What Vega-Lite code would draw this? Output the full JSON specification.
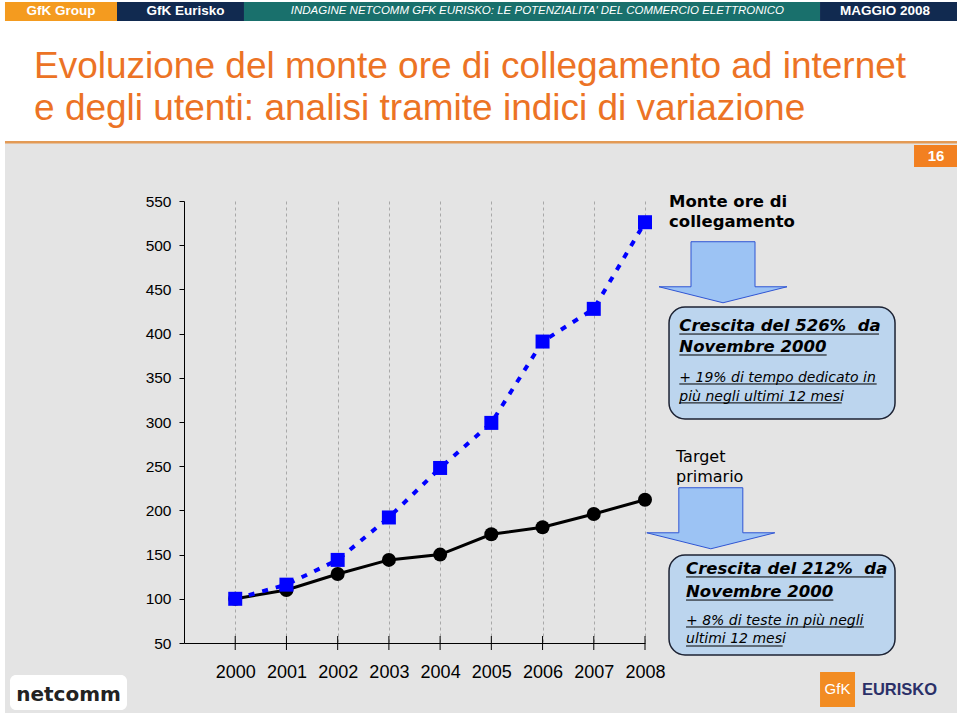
{
 "$schema": "https://vega.github.io/schema/vega-lite/v6.json",
 "width": 461, "height": 442, "autosize": "none",
 "padding": {"left": 184, "top": 201, "right": 315, "bottom": 73},
 "background": "#e4e4e4",
 "config": {"view": {"stroke": null}, "font": "Liberation Sans"},
 "datasets": {
  "blocks": [
   {"part": "white", "x": 1995.3, "x2": 2014.3, "y": 780, "y2": 617.9},
   {"part": "white", "x": 1995.3, "x2": 1995.505, "y": 780, "y2": -36},
   {"part": "white", "x": 2014.091, "x2": 2014.3, "y": 780, "y2": -36},
   {"part": "white", "x": 1995.3, "x2": 2014.3, "y": -29.2, "y2": -36},
   {"part": "linea", "x": 1995.505, "x2": 2014.091, "y": 617.9, "y2": 615.0},
   {"part": "pagina", "x": 2013.252, "x2": 2014.091, "y": 613.3, "y2": 588.5},
   {"part": "GfK Group", "x": 1995.505, "x2": 1997.692, "y": 775.1, "y2": 753.6},
   {"part": "GfK Eurisko", "x": 1997.692, "x2": 2000.171, "y": 775.1, "y2": 753.6},
   {"part": "indagine", "x": 2000.171, "x2": 2011.417, "y": 775.1, "y2": 753.6},
   {"part": "data", "x": 2011.417, "x2": 2014.091, "y": 775.1, "y2": 753.6},
   {"part": "logo GfK", "x": 2011.417, "x2": 2012.1, "y": 17.2, "y2": -22.4}
  ],
  "boxes": [
   {"box": "monte ore", "x": 2008.469, "x2": 2012.881, "y": 430.1, "y2": 303.4},
   {"box": "target", "x": 2008.469, "x2": 2012.881, "y": 149.5, "y2": 36.4}
  ],
  "netcommBox": [
   {"x": 1995.603, "x2": 1997.887, "y": 13.8, "y2": -25.8}
  ],
  "arrows": [
   {"arrow": "monte ore", "x": 2009.523, "y": 469.4},
   {"arrow": "target", "x": 2009.285, "y": 191.1}
  ],
  "series": [
   {"year": 2000, "serie": "Monte ore", "index": 100},
   {"year": 2001, "serie": "Monte ore", "index": 116},
   {"year": 2002, "serie": "Monte ore", "index": 144},
   {"year": 2003, "serie": "Monte ore", "index": 192},
   {"year": 2004, "serie": "Monte ore", "index": 248},
   {"year": 2005, "serie": "Monte ore", "index": 299},
   {"year": 2006, "serie": "Monte ore", "index": 391},
   {"year": 2007, "serie": "Monte ore", "index": 428},
   {"year": 2008, "serie": "Monte ore", "index": 526},
   {"year": 2000, "serie": "Target", "index": 100},
   {"year": 2001, "serie": "Target", "index": 110},
   {"year": 2002, "serie": "Target", "index": 128},
   {"year": 2003, "serie": "Target", "index": 144},
   {"year": 2004, "serie": "Target", "index": 150},
   {"year": 2005, "serie": "Target", "index": 173},
   {"year": 2006, "serie": "Target", "index": 181},
   {"year": 2007, "serie": "Target", "index": 196},
   {"year": 2008, "serie": "Target", "index": 212}
  ],
  "headerBold": [
   {"t": "GfK Group", "x": 1996.599, "y": 764.4},
   {"t": "GfK Eurisko", "x": 1999.029, "y": 764.4},
   {"t": "MAGGIO 2008", "x": 2012.686, "y": 764.4}
  ],
  "headerItalic": [
   {"t": "INDAGINE NETCOMM GFK EURISKO: LE POTENZIALITA' DEL COMMERCIO ELETTRONICO", "x": 2005.899, "y": 764.4}
  ],
  "title": [
   {"t": "Evoluzione del monte ore di collegamento ad internet", "x": 1996.072, "y": 688.6},
   {"t": "e degli utenti: analisi tramite indici di variazione", "x": 1996.072, "y": 641.6}
  ],
  "page": [{"t": "16", "x": 2013.681, "y": 600.9}],
  "seriesLabelBold": [
   {"t": "Monte ore di", "x": 2008.469, "y": 543.6},
   {"t": "collegamento", "x": 2008.469, "y": 520.3}
  ],
  "seriesLabel": [
   {"t": "Target", "x": 2008.605, "y": 255.1},
   {"t": "primario", "x": 2008.605, "y": 232.5}
  ],
  "boxHead": [
   {"t": "Crescita del 526%\u00a0 da", "x": 2008.67, "y": 403.3},
   {"t": "Novembre 2000", "x": 2008.67, "y": 379.2},
   {"t": "Crescita del 212%\u00a0 da", "x": 2008.801, "y": 127.7},
   {"t": "Novembre 2000", "x": 2008.801, "y": 102.4}
  ],
  "boxSub": [
   {"t": "+ 19% di tempo dedicato in", "x": 2008.67, "y": 345.2},
   {"t": "più negli ultimi 12 mesi", "x": 2008.67, "y": 323.8},
   {"t": "+ 8% di teste in più negli", "x": 2008.801, "y": 70.4},
   {"t": "ultimi 12 mesi", "x": 2008.801, "y": 49.7}
  ],
  "underlines": [
   {"x": 2008.67, "x2": 2012.568, "y": 399.5},
   {"x": 2008.67, "x2": 2011.547, "y": 375.8},
   {"x": 2008.67, "x2": 2012.523, "y": 343.0},
   {"x": 2008.67, "x2": 2011.84, "y": 321.6},
   {"x": 2008.801, "x2": 2012.653, "y": 124.7},
   {"x": 2008.801, "x2": 2011.677, "y": 98.6},
   {"x": 2008.801, "x2": 2012.276, "y": 68.1},
   {"x": 2008.801, "x2": 2010.688, "y": 46.6}
  ],
  "logoGfk": [{"t": "GfK", "x": 2011.758, "y": -2.6}],
  "logoEurisko": [{"t": "EURISKO", "x": 2012.969, "y": -3.2}],
  "logoNetcomm": [{"t": "netcomm", "x": 1996.745, "y": -8.8}]
 },
 "layer": [
  {
   "data": {"name": "blocks"},
   "mark": {"type": "rect", "strokeWidth": 0},
   "encoding": {
    "x": {"field": "x", "type": "quantitative", "scale": {"domain": [1999, 2008], "nice": false, "zero": false},
      "axis": {"values": [2000, 2001, 2002, 2003, 2004, 2005, 2006, 2007, 2008], "format": "d", "title": null, "grid": true, "gridDash": [3, 3], "gridColor": "#a8a8a8", "gridWidth": 1, "ticks": false, "labelPadding": 20, "labelFontSize": 18, "labelColor": "#000000", "labelFont": "Liberation Sans", "domainColor": "#000000", "domainWidth": 1, "labelFlush": false}},
    "x2": {"field": "x2"},
    "y": {"field": "y", "type": "quantitative", "scale": {"domain": [50, 550], "nice": false, "zero": false},
      "axis": {"values": [50, 100, 150, 200, 250, 300, 350, 400, 450, 500, 550], "title": null, "grid": false, "tickSize": 5, "tickColor": "#000000", "labelPadding": 8, "labelFontSize": 15.5, "labelColor": "#000000", "labelFont": "Liberation Sans", "domainColor": "#000000", "domainWidth": 1}},
    "y2": {"field": "y2"},
    "fill": {"field": "part", "type": "nominal", "legend": null,
      "scale": {"domain": ["white", "linea", "pagina", "GfK Group", "GfK Eurisko", "indagine", "data", "logo GfK"],
                "range": ["#ffffff", "#e39a55", "#f28021", "#f49b1f", "#112a50", "#19706c", "#112a50", "#f28c22"]}}
   }
  },
  {
   "data": {"name": "netcommBox"},
   "mark": {"type": "rect", "fill": "#ffffff", "cornerRadius": 6},
   "encoding": {
    "x": {"field": "x", "type": "quantitative", "scale": {"domain": [1999, 2008], "nice": false, "zero": false}},
    "x2": {"field": "x2"},
    "y": {"field": "y", "type": "quantitative", "scale": {"domain": [50, 550], "nice": false, "zero": false}},
    "y2": {"field": "y2"}
   }
  },
  {
   "data": {"name": "boxes"},
   "mark": {"type": "rect", "fill": "#bcd5ee", "stroke": "#1c2233", "strokeWidth": 1.5, "cornerRadius": 16},
   "encoding": {
    "x": {"field": "x", "type": "quantitative", "scale": {"domain": [1999, 2008], "nice": false, "zero": false}},
    "x2": {"field": "x2"},
    "y": {"field": "y", "type": "quantitative", "scale": {"domain": [50, 550], "nice": false, "zero": false}},
    "y2": {"field": "y2"}
   }
  },
  {
   "data": {"name": "arrows"},
   "mark": {"type": "point", "shape": "M-0.5,-0.477L0.5,-0.477L0.5,0.227L1,0.227L0,0.477L-1,0.227L-0.5,0.227Z", "size": 16384, "filled": true, "fill": "#9cc3f4", "stroke": "#2f55d4", "strokeWidth": 1, "opacity": 1},
   "encoding": {
    "x": {"field": "x", "type": "quantitative", "scale": {"domain": [1999, 2008], "nice": false, "zero": false}},
    "y": {"field": "y", "type": "quantitative", "scale": {"domain": [50, 550], "nice": false, "zero": false}}
   }
  },
  {
   "data": {"name": "series"},
   "transform": [{"filter": "datum.serie === 'Target'"}],
   "mark": {"type": "line", "color": "#000000", "strokeWidth": 3},
   "encoding": {
    "x": {"field": "year", "type": "quantitative", "scale": {"domain": [1999, 2008], "nice": false, "zero": false}},
    "y": {"field": "index", "type": "quantitative", "scale": {"domain": [50, 550], "nice": false, "zero": false}}
   }
  },
  {
   "data": {"name": "series"},
   "transform": [{"filter": "datum.serie === 'Target'"}],
   "mark": {"type": "tick", "orient": "vertical", "size": 14, "thickness": 1, "color": "#000000", "opacity": 1},
   "encoding": {
    "x": {"field": "year", "type": "quantitative", "scale": {"domain": [1999, 2008], "nice": false, "zero": false}},
    "y": {"datum": 50, "type": "quantitative", "scale": {"domain": [50, 550], "nice": false, "zero": false}}
   }
  },
  {
   "data": {"name": "series"},
   "transform": [{"filter": "datum.serie === 'Target'"}],
   "mark": {"type": "point", "shape": "circle", "filled": true, "size": 196, "color": "#000000", "opacity": 1},
   "encoding": {
    "x": {"field": "year", "type": "quantitative", "scale": {"domain": [1999, 2008], "nice": false, "zero": false}},
    "y": {"field": "index", "type": "quantitative", "scale": {"domain": [50, 550], "nice": false, "zero": false}}
   }
  },
  {
   "data": {"name": "series"},
   "transform": [{"filter": "datum.serie === 'Monte ore'"}],
   "mark": {"type": "line", "color": "#0000ff", "strokeWidth": 4, "strokeDash": [6, 8]},
   "encoding": {
    "x": {"field": "year", "type": "quantitative", "scale": {"domain": [1999, 2008], "nice": false, "zero": false}},
    "y": {"field": "index", "type": "quantitative", "scale": {"domain": [50, 550], "nice": false, "zero": false}}
   }
  },
  {
   "data": {"name": "series"},
   "transform": [{"filter": "datum.serie === 'Monte ore'"}],
   "mark": {"type": "point", "shape": "square", "filled": true, "size": 196, "color": "#0000ff", "opacity": 1},
   "encoding": {
    "x": {"field": "year", "type": "quantitative", "scale": {"domain": [1999, 2008], "nice": false, "zero": false}},
    "y": {"field": "index", "type": "quantitative", "scale": {"domain": [50, 550], "nice": false, "zero": false}}
   }
  },
  {
   "data": {"name": "underlines"},
   "mark": {"type": "rule", "color": "#000000", "strokeWidth": 1},
   "encoding": {
    "x": {"field": "x", "type": "quantitative", "scale": {"domain": [1999, 2008], "nice": false, "zero": false}},
    "x2": {"field": "x2"},
    "y": {"field": "y", "type": "quantitative", "scale": {"domain": [50, 550], "nice": false, "zero": false}}
   }
  },
  {
   "data": {"name": "headerBold"},
   "mark": {"type": "text", "align": "center", "baseline": "middle", "font": "Liberation Sans", "fontWeight": "bold", "fontSize": 13.5, "color": "#ffffff"},
   "encoding": {
    "x": {"field": "x", "type": "quantitative", "scale": {"domain": [1999, 2008], "nice": false, "zero": false}},
    "y": {"field": "y", "type": "quantitative", "scale": {"domain": [50, 550], "nice": false, "zero": false}},
    "text": {"field": "t"}
   }
  },
  {
   "data": {"name": "headerItalic"},
   "mark": {"type": "text", "align": "center", "baseline": "middle", "font": "Liberation Sans", "fontStyle": "italic", "fontSize": 11.5, "color": "#ffffff"},
   "encoding": {
    "x": {"field": "x", "type": "quantitative", "scale": {"domain": [1999, 2008], "nice": false, "zero": false}},
    "y": {"field": "y", "type": "quantitative", "scale": {"domain": [50, 550], "nice": false, "zero": false}},
    "text": {"field": "t"}
   }
  },
  {
   "data": {"name": "title"},
   "mark": {"type": "text", "align": "left", "baseline": "alphabetic", "font": "Liberation Sans", "fontSize": 37, "color": "#ec7325"},
   "encoding": {
    "x": {"field": "x", "type": "quantitative", "scale": {"domain": [1999, 2008], "nice": false, "zero": false}},
    "y": {"field": "y", "type": "quantitative", "scale": {"domain": [50, 550], "nice": false, "zero": false}},
    "text": {"field": "t"}
   }
  },
  {
   "data": {"name": "page"},
   "mark": {"type": "text", "align": "center", "baseline": "middle", "font": "Liberation Sans", "fontWeight": "bold", "fontSize": 15, "color": "#ffffff"},
   "encoding": {
    "x": {"field": "x", "type": "quantitative", "scale": {"domain": [1999, 2008], "nice": false, "zero": false}},
    "y": {"field": "y", "type": "quantitative", "scale": {"domain": [50, 550], "nice": false, "zero": false}},
    "text": {"field": "t"}
   }
  },
  {
   "data": {"name": "seriesLabelBold"},
   "mark": {"type": "text", "align": "left", "baseline": "alphabetic", "font": "DejaVu Sans", "fontWeight": "bold", "fontSize": 16.5, "color": "#000000"},
   "encoding": {
    "x": {"field": "x", "type": "quantitative", "scale": {"domain": [1999, 2008], "nice": false, "zero": false}},
    "y": {"field": "y", "type": "quantitative", "scale": {"domain": [50, 550], "nice": false, "zero": false}},
    "text": {"field": "t"}
   }
  },
  {
   "data": {"name": "seriesLabel"},
   "mark": {"type": "text", "align": "left", "baseline": "alphabetic", "font": "DejaVu Sans", "fontSize": 16, "color": "#000000"},
   "encoding": {
    "x": {"field": "x", "type": "quantitative", "scale": {"domain": [1999, 2008], "nice": false, "zero": false}},
    "y": {"field": "y", "type": "quantitative", "scale": {"domain": [50, 550], "nice": false, "zero": false}},
    "text": {"field": "t"}
   }
  },
  {
   "data": {"name": "boxHead"},
   "mark": {"type": "text", "align": "left", "baseline": "alphabetic", "font": "DejaVu Sans", "fontWeight": "bold", "fontStyle": "italic", "fontSize": 16.5, "color": "#000000"},
   "encoding": {
    "x": {"field": "x", "type": "quantitative", "scale": {"domain": [1999, 2008], "nice": false, "zero": false}},
    "y": {"field": "y", "type": "quantitative", "scale": {"domain": [50, 550], "nice": false, "zero": false}},
    "text": {"field": "t"}
   }
  },
  {
   "data": {"name": "boxSub"},
   "mark": {"type": "text", "align": "left", "baseline": "alphabetic", "font": "DejaVu Sans", "fontStyle": "italic", "fontSize": 14, "color": "#000000"},
   "encoding": {
    "x": {"field": "x", "type": "quantitative", "scale": {"domain": [1999, 2008], "nice": false, "zero": false}},
    "y": {"field": "y", "type": "quantitative", "scale": {"domain": [50, 550], "nice": false, "zero": false}},
    "text": {"field": "t"}
   }
  },
  {
   "data": {"name": "logoGfk"},
   "mark": {"type": "text", "align": "center", "baseline": "middle", "font": "Liberation Sans", "fontSize": 15, "color": "#ffffff"},
   "encoding": {
    "x": {"field": "x", "type": "quantitative", "scale": {"domain": [1999, 2008], "nice": false, "zero": false}},
    "y": {"field": "y", "type": "quantitative", "scale": {"domain": [50, 550], "nice": false, "zero": false}},
    "text": {"field": "t"}
   }
  },
  {
   "data": {"name": "logoEurisko"},
   "mark": {"type": "text", "align": "center", "baseline": "middle", "font": "Liberation Sans", "fontWeight": "bold", "fontSize": 16.5, "color": "#2b3068"},
   "encoding": {
    "x": {"field": "x", "type": "quantitative", "scale": {"domain": [1999, 2008], "nice": false, "zero": false}},
    "y": {"field": "y", "type": "quantitative", "scale": {"domain": [50, 550], "nice": false, "zero": false}},
    "text": {"field": "t"}
   }
  },
  {
   "data": {"name": "logoNetcomm"},
   "mark": {"type": "text", "align": "center", "baseline": "middle", "font": "DejaVu Sans", "fontWeight": "bold", "fontSize": 20, "color": "#222222"},
   "encoding": {
    "x": {"field": "x", "type": "quantitative", "scale": {"domain": [1999, 2008], "nice": false, "zero": false}},
    "y": {"field": "y", "type": "quantitative", "scale": {"domain": [50, 550], "nice": false, "zero": false}},
    "text": {"field": "t"}
   }
  }
 ]
}
